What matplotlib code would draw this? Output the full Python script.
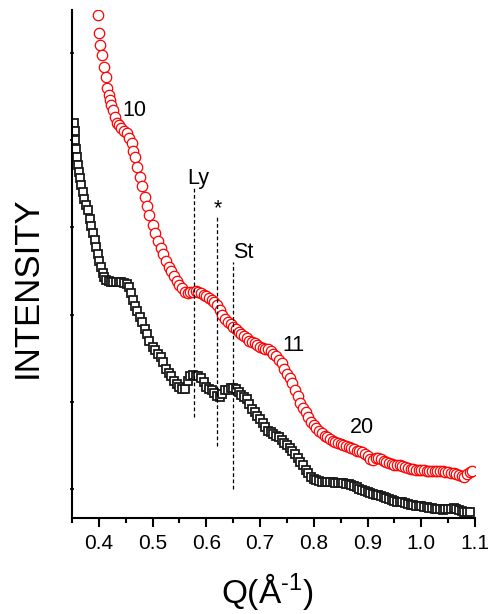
import numpy as np
import matplotlib.pyplot as plt
from matplotlib.ticker import MultipleLocator

plt.rcParams['font.family'] = ['Liberation Sans', 'DejaVu Sans']
plt.rcParams['mathtext.fontset'] = 'custom'
plt.rcParams['mathtext.rm'] = 'Liberation Sans'
plt.rcParams['mathtext.it'] = 'Liberation Sans'

# red circles (upper curve)
q_red = [0.399, 0.400, 0.403, 0.406, 0.409, 0.413, 0.415, 0.418, 0.420, 0.423,
         0.426, 0.430, 0.433, 0.437, 0.442, 0.447, 0.452, 0.456, 0.461, 0.464,
         0.467, 0.471, 0.476, 0.480, 0.485, 0.490, 0.494, 0.500, 0.505, 0.510,
         0.515, 0.520, 0.525, 0.530, 0.535, 0.540, 0.545, 0.550, 0.555, 0.560,
         0.565, 0.570, 0.575, 0.580, 0.585, 0.590, 0.595, 0.600, 0.605, 0.610,
         0.615, 0.620, 0.625, 0.630, 0.635, 0.640, 0.645, 0.650, 0.655, 0.660,
         0.665, 0.670, 0.675, 0.680, 0.685, 0.690, 0.695, 0.700, 0.705, 0.710,
         0.715, 0.720, 0.725, 0.730, 0.735, 0.740, 0.745, 0.750, 0.755, 0.760,
         0.765, 0.770, 0.775, 0.780, 0.785, 0.790, 0.795, 0.800, 0.805, 0.810,
         0.815, 0.820, 0.825, 0.830, 0.835, 0.840, 0.845, 0.850, 0.855, 0.860,
         0.865, 0.870, 0.875, 0.880, 0.885, 0.890, 0.895, 0.900, 0.905, 0.910,
         0.915, 0.920, 0.925, 0.930, 0.935, 0.940, 0.945, 0.950, 0.955, 0.960,
         0.965, 0.970, 0.975, 0.980, 0.985, 0.990, 0.995, 1.000, 1.005, 1.010,
         1.015, 1.020, 1.025, 1.030, 1.035, 1.040, 1.045, 1.050, 1.055, 1.060,
         1.065, 1.070, 1.075, 1.080, 1.085, 1.090, 1.095]
i_red = [6.44, 6.23, 6.09, 5.98, 5.84, 5.72, 5.60, 5.52, 5.46, 5.40,
         5.35, 5.27, 5.20, 5.17, 5.14, 5.11, 5.08, 5.03, 4.97, 4.88,
         4.81, 4.69, 4.58, 4.47, 4.35, 4.24, 4.14, 4.03, 3.93, 3.84,
         3.76, 3.69, 3.61, 3.55, 3.50, 3.44, 3.39, 3.34, 3.30, 3.26,
         3.25, 3.26, 3.26, 3.27, 3.26, 3.25, 3.23, 3.21, 3.19, 3.17,
         3.14, 3.11, 3.05, 3.00, 2.95, 2.92, 2.89, 2.86, 2.83, 2.80,
         2.78, 2.75, 2.73, 2.70, 2.69, 2.67, 2.65, 2.63, 2.62, 2.60,
         2.60, 2.58, 2.55, 2.52, 2.48, 2.45, 2.38, 2.32, 2.27, 2.21,
         2.14, 2.07, 1.99, 1.93, 1.88, 1.82, 1.77, 1.73, 1.70, 1.67,
         1.64, 1.61, 1.59, 1.57, 1.555, 1.54, 1.53, 1.52, 1.505, 1.49,
         1.48, 1.47, 1.455, 1.44, 1.43, 1.42, 1.40, 1.38, 1.34, 1.33,
         1.36, 1.36, 1.34, 1.32, 1.31, 1.30, 1.29, 1.28, 1.275, 1.27,
         1.26, 1.25, 1.24, 1.23, 1.225, 1.22, 1.22, 1.22, 1.215, 1.21,
         1.21, 1.21, 1.205, 1.20, 1.20, 1.20, 1.195, 1.19, 1.185, 1.18,
         1.17, 1.16, 1.15, 1.14, 1.17, 1.19, 1.20]

# black squares (lower curve)
q_blk = [0.354, 0.355, 0.356, 0.358, 0.359, 0.361, 0.363, 0.365, 0.367, 0.370,
         0.373, 0.376, 0.380, 0.383, 0.386, 0.389, 0.392, 0.395, 0.398, 0.401,
         0.404, 0.407, 0.410, 0.414, 0.418, 0.422, 0.427, 0.432, 0.437, 0.442,
         0.447, 0.452, 0.457, 0.460, 0.463, 0.467, 0.471, 0.476, 0.480, 0.485,
         0.489, 0.494, 0.500, 0.505, 0.510, 0.515, 0.520, 0.525, 0.530, 0.535,
         0.540, 0.545, 0.550, 0.555, 0.560, 0.565, 0.570, 0.575, 0.580, 0.585,
         0.590, 0.595, 0.600, 0.605, 0.610, 0.615, 0.620, 0.625, 0.630, 0.635,
         0.640, 0.645, 0.650, 0.655, 0.660, 0.665, 0.670, 0.675, 0.680, 0.685,
         0.690, 0.695, 0.700, 0.705, 0.710, 0.715, 0.720, 0.725, 0.730, 0.735,
         0.740, 0.745, 0.750, 0.755, 0.760, 0.765, 0.770, 0.775, 0.780, 0.785,
         0.790, 0.795, 0.800, 0.805, 0.810, 0.815, 0.820, 0.825, 0.830, 0.835,
         0.840, 0.845, 0.850, 0.855, 0.860, 0.865, 0.870, 0.875, 0.880, 0.885,
         0.890, 0.895, 0.900, 0.905, 0.910, 0.915, 0.920, 0.925, 0.930, 0.935,
         0.940, 0.945, 0.950, 0.955, 0.960, 0.965, 0.970, 0.975, 0.980, 0.985,
         0.990, 0.995, 1.000, 1.005, 1.010, 1.015, 1.020, 1.025, 1.030, 1.035,
         1.040, 1.045, 1.050, 1.055, 1.060, 1.065, 1.070, 1.075, 1.080, 1.085,
         1.090]
i_blk = [5.20, 5.10, 5.00, 4.90, 4.81, 4.72, 4.64, 4.57, 4.49, 4.40,
         4.33, 4.26, 4.20, 4.10, 4.02, 3.94, 3.86, 3.78, 3.70, 3.62,
         3.55, 3.48, 3.43, 3.40, 3.38, 3.37, 3.37, 3.37, 3.37, 3.37,
         3.36, 3.35, 3.32, 3.25, 3.17, 3.10, 3.04, 2.97, 2.91, 2.83,
         2.78, 2.70, 2.63, 2.59, 2.55, 2.51, 2.46, 2.38, 2.33, 2.29,
         2.24, 2.20, 2.17, 2.15, 2.15, 2.24, 2.29, 2.31, 2.30, 2.29,
         2.27, 2.23, 2.17, 2.15, 2.13, 2.10, 2.07, 2.06, 2.09, 2.13,
         2.14, 2.16, 2.16, 2.15, 2.11, 2.08, 2.05, 2.03, 1.97, 1.92,
         1.88, 1.84, 1.80, 1.76, 1.71, 1.67, 1.65, 1.63, 1.61, 1.59,
         1.56, 1.53, 1.50, 1.47, 1.44, 1.40, 1.36, 1.31, 1.27, 1.22,
         1.18, 1.14, 1.11, 1.10, 1.09, 1.085, 1.08, 1.08, 1.08, 1.075,
         1.07, 1.07, 1.07, 1.065, 1.06, 1.055, 1.05, 1.035, 1.02, 1.005,
         0.99, 0.975, 0.96, 0.95, 0.94, 0.935, 0.93, 0.92, 0.91, 0.895,
         0.88, 0.87, 0.86, 0.855, 0.85, 0.845, 0.84, 0.83, 0.82, 0.815,
         0.81, 0.805, 0.80, 0.795, 0.79, 0.785, 0.78, 0.775, 0.77, 0.765,
         0.76, 0.765, 0.77, 0.775, 0.78, 0.77, 0.76, 0.75, 0.74, 0.74,
         0.74]

# dashed marker lines: position, top, bottom
mark_q = [0.577, 0.619, 0.650]
mark_top = [4.46, 4.12, 3.60]
mark_bot = [1.83, 1.49, 1.00]

# peak labels
lbl_text = ['10', 'Ly', '*', 'St', '11', '20']
lbl_q = [0.467, 0.585, 0.621, 0.668, 0.7615, 0.890]
lbl_i = [5.34, 4.56, 4.22, 3.71, 2.64, 1.70]

fig = plt.figure(figsize=(4.9, 6.14), dpi=100)
ax = fig.add_axes([0.1469, 0.1564, 0.8225, 0.8273])

ax.plot(q_blk, i_blk, ls='none', marker='s', ms=6.3, mfc='white',
        mec='#1a1a1a', mew=1.3)
ax.plot(q_red, i_red, ls='none', marker='o', ms=7.5, mfc='white',
        mec='red', mew=0.9)

for q, t, b in zip(mark_q, mark_top, mark_bot):
    ax.plot([q, q], [b, t], color='black', lw=0.9, ls=(0, (3, 2)))

for t, q, i in zip(lbl_text, lbl_q, lbl_i):
    ax.text(q, i, t, fontsize=15.5, ha='center', va='center')

ax.set_xlim(0.35, 1.1)
ax.set_ylim(0.667, 6.493)
ax.xaxis.set_minor_locator(MultipleLocator(0.05))
ax.set_xticks(np.arange(0.4, 1.101, 0.1))
ax.set_xticklabels(['0.4', '0.5', '0.6', '0.7', '0.8', '0.9', '1.0', '1.1'])
ax.set_yticks([1, 2, 3, 4, 5, 6])
ax.set_yticklabels([])

ax.spines['top'].set_visible(False)
ax.spines['right'].set_visible(False)
ax.spines['left'].set_linewidth(1.5)
ax.spines['bottom'].set_linewidth(1.5)
ax.tick_params(axis='x', which='major', direction='out', length=6.5,
               width=1.5, labelsize=15, pad=5)
ax.tick_params(axis='x', which='minor', direction='out', length=3.5, width=1.5)
ax.tick_params(axis='y', which='major', direction='inout', length=3, width=1.2)

fig.text(0.055, 0.532, 'INTENSITY', rotation=90, fontsize=25,
         ha='center', va='center')
fig.text(0.545, 0.018, r'Q(Å$^{\text{-1}}$)', fontsize=24,
         ha='center', va='baseline')

fig.savefig('out.png', dpi=100)
